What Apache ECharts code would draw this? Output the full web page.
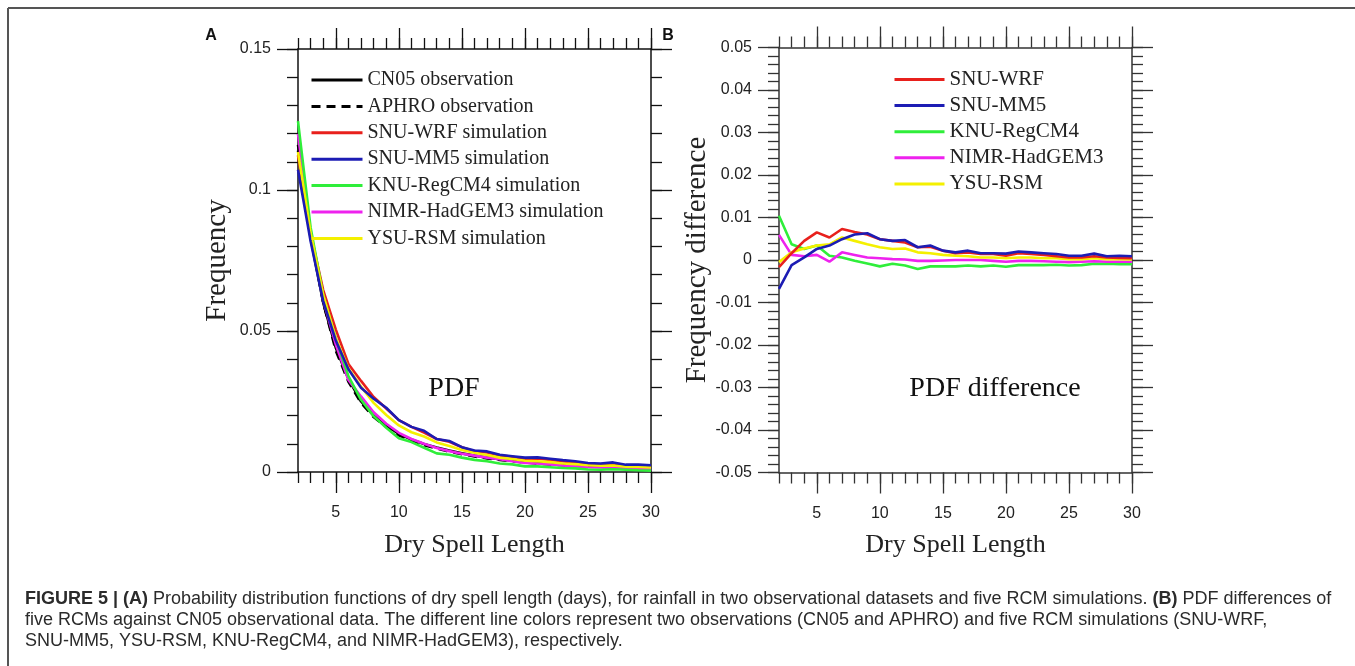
<!DOCTYPE html>
<html>

<head>
    <meta charset="utf-8">
    <script src="https://cdn.jsdelivr.net/npm/echarts@6/dist/echarts.min.js"></script>
</head>

<body style="margin:0;background:#fff;">
    <div id="main" style="width: 1355px;height:666px;"></div>

    <script type="text/javascript">
        // dry spell length (days)
        var days = [2, 3, 4, 5, 6, 7, 8, 9, 10, 11, 12, 13, 14, 15, 16, 17, 18, 19, 20, 21, 22, 23, 24, 25, 26, 27, 28, 29, 30];

        // panel A: PDF
        var cn05 = [0.114, 0.083, 0.060, 0.044, 0.033, 0.025, 0.020, 0.0165, 0.0135, 0.0115, 0.0099, 0.0087, 0.0076, 0.0066, 0.0058, 0.0051, 0.0045, 0.0040, 0.0036, 0.0032, 0.0029, 0.0026, 0.0024, 0.0022, 0.0020, 0.0019, 0.0017, 0.0016, 0.0015];
        var aphro = [0.116, 0.084, 0.060, 0.043, 0.032, 0.0245, 0.0195, 0.016, 0.013, 0.011, 0.0095, 0.0083, 0.0072, 0.0063, 0.0055, 0.0048, 0.0043, 0.0038, 0.0034, 0.003, 0.0027, 0.0024, 0.0022, 0.002, 0.0018, 0.0017, 0.0015, 0.0014, 0.0013];
        var wrfPdf = [0.1123, 0.0846, 0.0645, 0.0505, 0.0383, 0.0323, 0.0266, 0.0225, 0.0184, 0.016, 0.014, 0.0117, 0.0107, 0.0088, 0.0074, 0.0069, 0.0059, 0.0054, 0.0046, 0.0048, 0.0043, 0.0038, 0.0033, 0.0028, 0.0026, 0.0028, 0.0023, 0.0021, 0.0019];
        var mm5Pdf = [0.1072, 0.0818, 0.0606, 0.0466, 0.0364, 0.0299, 0.026, 0.0228, 0.0184, 0.016, 0.0146, 0.0117, 0.011, 0.0088, 0.0076, 0.0073, 0.0061, 0.0056, 0.0051, 0.0052, 0.0047, 0.0042, 0.0038, 0.0032, 0.003, 0.0034, 0.0026, 0.0026, 0.0024];
        var regcmPdf = [0.1244, 0.0867, 0.0626, 0.0474, 0.034, 0.0256, 0.0198, 0.0157, 0.012, 0.0106, 0.0086, 0.0066, 0.0061, 0.0051, 0.0043, 0.0038, 0.003, 0.0027, 0.002, 0.002, 0.0017, 0.0014, 0.0013, 0.0009, 0.0008, 0.001, 0.0008, 0.0006, 0.0005];
        var hadgemPdf = [0.1199, 0.0842, 0.0609, 0.0452, 0.0326, 0.0268, 0.0212, 0.0171, 0.0139, 0.0117, 0.01, 0.0085, 0.0074, 0.0065, 0.0058, 0.0051, 0.0045, 0.0038, 0.0032, 0.003, 0.0027, 0.0023, 0.002, 0.0017, 0.0016, 0.0016, 0.0013, 0.0012, 0.0011];
        var rsmPdf = [0.1135, 0.0848, 0.0627, 0.0474, 0.0367, 0.0303, 0.0245, 0.0202, 0.0165, 0.0141, 0.0126, 0.0105, 0.0092, 0.0078, 0.0068, 0.006, 0.0051, 0.0046, 0.004, 0.0038, 0.0035, 0.003, 0.0028, 0.0024, 0.0022, 0.0023, 0.0019, 0.0018, 0.0016];

        // panel B: PDF difference against CN05
        var wrfDiff = [-0.0017, 0.0016, 0.0045, 0.0065, 0.0053, 0.0073, 0.0066, 0.006, 0.0049, 0.0045, 0.0041, 0.003, 0.0031, 0.0022, 0.0016, 0.0018, 0.0014, 0.0014, 0.001, 0.0016, 0.0014, 0.0012, 0.0009, 0.0006, 0.0006, 0.0009, 0.0006, 0.0005, 0.0004];
        var mm5Diff = [-0.0068, -0.0012, 0.0006, 0.0026, 0.0034, 0.0049, 0.006, 0.0063, 0.0049, 0.0045, 0.0047, 0.003, 0.0034, 0.0022, 0.0018, 0.0022, 0.0016, 0.0016, 0.0015, 0.002, 0.0018, 0.0016, 0.0014, 0.001, 0.001, 0.0015, 0.0009, 0.001, 0.0009];
        var regcmDiff = [0.0104, 0.0037, 0.0026, 0.0034, 0.001, 0.0006, -0.0002, -0.0008, -0.0015, -0.0009, -0.0013, -0.0021, -0.0015, -0.0015, -0.0015, -0.0013, -0.0015, -0.0013, -0.0016, -0.0012, -0.0012, -0.0012, -0.0011, -0.0013, -0.0012, -0.0009, -0.0009, -0.001, -0.001];
        var hadgemDiff = [0.0059, 0.0012, 0.0009, 0.0012, -0.0004, 0.0018, 0.0012, 0.0006, 0.0004, 0.0002, 0.0001, -0.0002, -0.0002, -0.0001, 0, 0, 0, -0.0002, -0.0004, -0.0002, -0.0002, -0.0003, -0.0004, -0.0005, -0.0004, -0.0003, -0.0004, -0.0004, -0.0004];
        var rsmDiff = [-0.0005, 0.0018, 0.0027, 0.0034, 0.0037, 0.0053, 0.0045, 0.0037, 0.003, 0.0026, 0.0027, 0.0018, 0.0016, 0.0012, 0.001, 0.0009, 0.0006, 0.0006, 0.0004, 0.0006, 0.0006, 0.0004, 0.0004, 0.0002, 0.0002, 0.0004, 0.0002, 0.0002, 0.0001];

        var majorDays = [5, 10, 15, 20, 25, 30];

        var serif = 'Liberation Serif';
        var sans = 'Liberation Sans';

        function pairs(vals) {
            return days.map(function(d, i) { return [d, vals[i]]; });
        }

        // one line series
        function line(name, vals, color, grid, dashed) {
            return {
                name: name,
                type: 'line',
                xAxisIndex: grid,
                yAxisIndex: grid,
                symbol: 'none',
                lineStyle: { color: color, width: 2.6, type: dashed ? [9, 6] : 'solid' },
                itemStyle: { color: color },
                data: pairs(vals)
            };
        }

        // axis helpers: major axes carry the line/labels, minor axes only ticks
        function xMajor(grid, pos, lineColor, labels) {
            return {
                type: 'value', gridIndex: grid, position: pos, min: 2, max: 30,
                name: labels ? 'Dry Spell Length' : '',
                nameLocation: 'middle', nameGap: 60,
                nameTextStyle: { fontFamily: serif, fontSize: 26, color: '#222' },
                axisLine: { show: true, onZero: false, lineStyle: { color: lineColor, width: 1.5 } },
                axisTick: { show: true, customValues: majorDays, length: 21, lineStyle: { color: lineColor, width: 1.3 } },
                axisLabel: { show: labels, customValues: majorDays, margin: 33, fontFamily: sans, fontSize: 16, color: '#222' },
                splitLine: { show: false }
            };
        }

        function xMinor(grid, pos, lineColor) {
            return {
                type: 'value', gridIndex: grid, position: pos, min: 2, max: 30, interval: 1,
                axisLine: { show: false, onZero: false },
                axisTick: { show: true, length: 11, lineStyle: { color: lineColor, width: 1.3 } },
                axisLabel: { show: false },
                splitLine: { show: false }
            };
        }

        function yMajor(grid, pos, min, max, step, lineColor, name) {
            return {
                type: 'value', gridIndex: grid, position: pos, min: min, max: max, interval: step,
                name: name || '', nameLocation: 'middle', nameGap: 66, nameRotate: 90,
                nameTextStyle: { fontFamily: serif, fontSize: 29, color: '#222' },
                axisLine: { show: true, onZero: false, lineStyle: { color: lineColor, width: 1.5 } },
                axisTick: { show: true, length: 21, lineStyle: { color: lineColor, width: 1.3 } },
                axisLabel: { show: !!name, margin: 27, fontFamily: sans, fontSize: 16, color: '#222' },
                splitLine: { show: false }
            };
        }

        function yMinor(grid, pos, min, max, step, lineColor) {
            return {
                type: 'value', gridIndex: grid, position: pos, min: min, max: max, interval: step,
                axisLine: { show: false, onZero: false },
                axisTick: { show: true, length: 11, lineStyle: { color: lineColor, width: 1.3 } },
                axisLabel: { show: false },
                splitLine: { show: false }
            };
        }

        var myChart = echarts.init(document.getElementById('main'));

        var namesA = ['CN05 observation', 'APHRO observation', 'SNU-WRF simulation', 'SNU-MM5 simulation',
            'KNU-RegCM4 simulation', 'NIMR-HadGEM3 simulation', 'YSU-RSM simulation'];
        var namesB = ['SNU-WRF', 'SNU-MM5', 'KNU-RegCM4', 'NIMR-HadGEM3', 'YSU-RSM'];

        var red = '#e8201c', blue = '#1c1cb4', green = '#2fee3a', magenta = '#ee22ee', yellow = '#f4f000';

        var legendBase = {
            orient: 'vertical', padding: 0, itemWidth: 51, itemHeight: 14, itemGap: 6.4,
            itemStyle: { opacity: 0 },
            lineStyle: { width: 3 },
            textStyle: { fontFamily: serif, fontSize: 20, color: '#222' }
        };

        var capText = '{b|FIGURE 5 | (A)} Probability distribution functions of dry spell length (days), for rainfall in two observational datasets and five RCM simulations. {b|(B)} PDF differences of\n' +
            'five RCMs against CN05 observational data. The different line colors represent two observations (CN05 and APHRO) and five RCM simulations (SNU-WRF,\n' +
            'SNU-MM5, YSU-RSM, KNU-RegCM4, and NIMR-HadGEM3), respectively.';

        option = {
            animation: false,
            backgroundColor: '#fff',
            grid: [
                { left: 298, top: 49, width: 353, height: 423 },
                { left: 298, top: 49, width: 353, height: 423 },
                { left: 779, top: 47.5, width: 353, height: 425 },
                { left: 779, top: 47.5, width: 353, height: 425 }
            ],
            xAxis: [
                xMajor(0, 'bottom', '#111', true),
                xMajor(0, 'top', '#111', false),
                xMinor(1, 'bottom', '#111'),
                xMinor(1, 'top', '#111'),
                xMajor(2, 'bottom', '#333', true),
                xMajor(2, 'top', '#333', false),
                xMinor(3, 'bottom', '#333'),
                xMinor(3, 'top', '#333')
            ],
            yAxis: [
                yMajor(0, 'left', 0, 0.15, 0.05, '#111', 'Frequency'),
                yMajor(0, 'right', 0, 0.15, 0.05, '#111', ''),
                yMinor(1, 'left', 0, 0.15, 0.01, '#111'),
                yMinor(1, 'right', 0, 0.15, 0.01, '#111'),
                yMajor(2, 'left', -0.05, 0.05, 0.01, '#333', 'Frequency difference'),
                yMajor(2, 'right', -0.05, 0.05, 0.01, '#333', ''),
                yMinor(3, 'left', -0.05, 0.05, 0.002, '#333'),
                yMinor(3, 'right', -0.05, 0.05, 0.002, '#333')
            ],
            legend: [
                Object.assign({}, legendBase, { left: 310, top: 70, data: namesA }),
                Object.assign({}, legendBase, {
                    left: 893, top: 69, data: namesB, itemWidth: 50, itemGap: 5.1,
                    textStyle: { fontFamily: serif, fontSize: 21, color: '#222' }
                })
            ],
            graphic: [
                { type: 'line', shape: { x1: 8, y1: 8, x2: 1355, y2: 8 }, style: { stroke: '#555', lineWidth: 2 } },
                { type: 'line', shape: { x1: 8, y1: 8, x2: 8, y2: 666 }, style: { stroke: '#555', lineWidth: 2 } },
                { type: 'text', x: 211, y: 36, style: { text: 'A', font: 'bold 16px "Liberation Sans"', fill: '#111', align: 'center', verticalAlign: 'middle' } },
                { type: 'text', x: 668, y: 36, style: { text: 'B', font: 'bold 16px "Liberation Sans"', fill: '#111', align: 'center', verticalAlign: 'middle' } },
                { type: 'text', x: 454, y: 389, style: { text: 'PDF', font: '28px "Liberation Serif"', fill: '#111', align: 'center', verticalAlign: 'middle' } },
                { type: 'text', x: 995, y: 389, style: { text: 'PDF difference', font: '28px "Liberation Serif"', fill: '#111', align: 'center', verticalAlign: 'middle' } },
                {
                    type: 'text', x: 25, y: 588,
                    style: {
                        text: capText, fontFamily: sans, fontSize: 18, fill: '#2b2b2b', lineHeight: 21.3,
                        rich: { b: { fontFamily: sans, fontSize: 18, fontWeight: 'bold', fill: '#2b2b2b', lineHeight: 21.3 } }
                    }
                }
            ],
            series: [
                line('CN05 observation', cn05, '#000', 0, false),
                line('APHRO observation', aphro, '#000', 0, true),
                line('SNU-WRF simulation', wrfPdf, red, 0, false),
                line('NIMR-HadGEM3 simulation', hadgemPdf, magenta, 0, false),
                line('KNU-RegCM4 simulation', regcmPdf, green, 0, false),
                line('YSU-RSM simulation', rsmPdf, yellow, 0, false),
                line('SNU-MM5 simulation', mm5Pdf, blue, 0, false),

                line('KNU-RegCM4', regcmDiff, green, 4, false),
                line('NIMR-HadGEM3', hadgemDiff, magenta, 4, false),
                line('YSU-RSM', rsmDiff, yellow, 4, false),
                line('SNU-WRF', wrfDiff, red, 4, false),
                line('SNU-MM5', mm5Diff, blue, 4, false)
            ]
        };
        myChart.setOption(option);
    </script>
</body>

</html>
